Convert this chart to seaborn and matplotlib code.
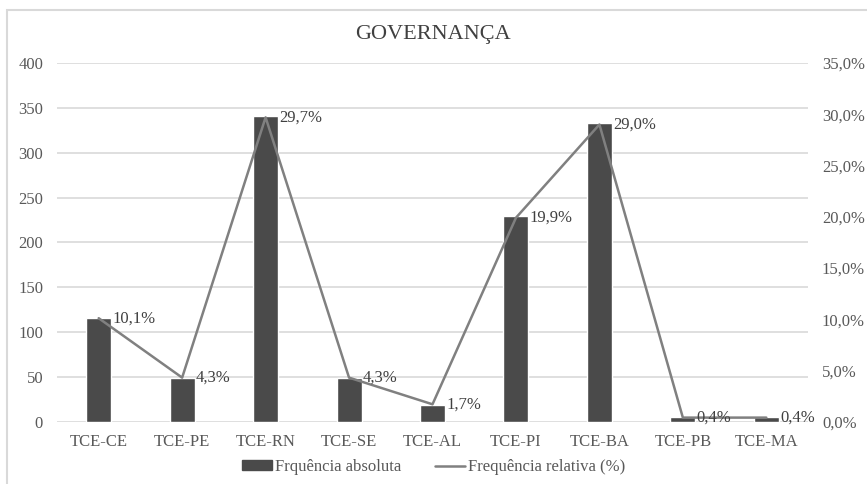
import matplotlib.pyplot as plt
import matplotlib.patches as mpatches
from matplotlib.lines import Line2D
from matplotlib.ticker import FuncFormatter
import numpy as np
import pandas as pd
import seaborn as sns

# Dados
tribunais = ['TCE-CE', 'TCE-PE', 'TCE-RN', 'TCE-SE', 'TCE-AL', 'TCE-PI', 'TCE-BA', 'TCE-PB', 'TCE-MA']
freq_abs = [116, 49, 341, 49, 19, 229, 333, 5, 5]
freq_rel = [10.1, 4.3, 29.7, 4.3, 1.7, 19.9, 29.0, 0.4, 0.4]

df = pd.DataFrame({'Tribunal': tribunais, 'Abs': freq_abs, 'Rel': freq_rel})

sns.set_style('white')
plt.rcParams['font.family'] = ['Liberation Serif', 'DejaVu Serif']

bar_color = '#4a4a4a'
line_color = '#808080'
text_color = '#595959'

fig = plt.figure(figsize=(8.67, 4.84), dpi=100)
ax = fig.add_axes([0.0657, 0.1287, 0.8663, 0.7411])

sns.barplot(data=df, x='Tribunal', y='Abs', color=bar_color, width=0.3,
            saturation=1, ax=ax, zorder=2)
ax.set_ylim(0, 400)
ax.set_xlim(-0.5, 8.5)
ax.set_yticks(range(0, 401, 50))
ax.yaxis.grid(True, color='#d9d9d9', linewidth=1.2, zorder=0)
ax.set_axisbelow(True)
ax.set_xlabel('')
ax.set_ylabel('')
for s in ax.spines.values():
    s.set_visible(False)
ax.tick_params(axis='both', length=0, labelsize=12, labelcolor=text_color)
ax.tick_params(axis='y', pad=10)
ax.tick_params(axis='x', pad=9)

ax2 = ax.twinx()
sns.lineplot(x=np.arange(len(tribunais)), y=df['Rel'], color=line_color,
             linewidth=1.8, ax=ax2)
ax2.set_ylim(0, 35)
ax2.set_yticks(np.arange(0, 36, 5))
ax2.yaxis.set_major_formatter(FuncFormatter(lambda v, p: f'{v:.1f}%'.replace('.', ',')))
ax2.set_ylabel('')
for s in ax2.spines.values():
    s.set_visible(False)
ax2.tick_params(axis='y', length=0, labelsize=12, labelcolor=text_color, pad=10)

for i, v in enumerate(freq_rel):
    ax2.annotate(f'{v:.1f}%'.replace('.', ','), (i, v), xytext=(10, 0),
                 textcoords='offset points', ha='left', va='center',
                 fontsize=12, color='#404040')

fig.text(0.5, 1 - 35 / 484, 'GOVERNANÇA', ha='center', va='center',
         fontsize=16, color='#404040')

handles = [mpatches.Patch(color=bar_color, label='Frquência absoluta'),
           Line2D([0], [0], color=line_color, linewidth=1.8, label='Frequência relativa (%)')]
leg = fig.legend(handles=handles, loc='center', bbox_to_anchor=(0.5, 1 - 467 / 484),
                 ncol=2, frameon=False, fontsize=12, handlelength=1.8,
                 handleheight=0.5, columnspacing=2.0, handletextpad=0.2)
for t in leg.get_texts():
    t.set_color(text_color)

border = mpatches.Rectangle((7 / 867, -0.02), 1.0, 1 - 10 / 484 + 0.02,
                            transform=fig.transFigure, fill=False,
                            edgecolor='#d9d9d9', linewidth=1.5)
fig.patches.append(border)

fig.savefig('out.png', dpi=100)
